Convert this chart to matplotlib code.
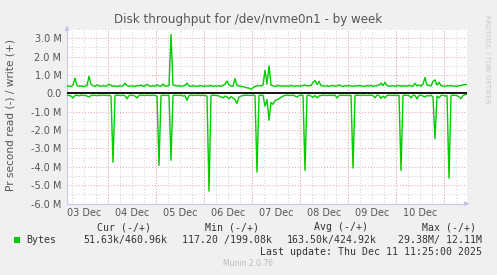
import numpy as np
import matplotlib
matplotlib.use("Agg")
import matplotlib.pyplot as plt
import matplotlib.dates as mdates
from matplotlib.ticker import MultipleLocator, FuncFormatter

# ---- data (values in millions of bytes / second), hourly samples ----
start = np.datetime64('2025-12-03T03:25')
n_points = 201
times = start + np.arange(n_points) * np.timedelta64(1, 'h')

write = [
    0.38, 0.40, 0.36, 0.45, 0.83, 0.42, 0.38, 0.40, 0.37, 0.39,
    0.42, 0.92, 0.50, 0.40, 0.38, 0.45, 0.40, 0.38, 0.41, 0.39,
    0.40, 0.50, 0.42, 0.38, 0.40, 0.37, 0.41, 0.39, 0.40, 0.55,
    0.42, 0.38, 0.40, 0.39, 0.37, 0.42, 0.40, 0.45, 0.38, 0.40,
    0.49, 0.40, 0.38, 0.41, 0.38, 0.45, 0.40, 0.38, 0.50, 0.39,
    0.40, 0.42, 3.20, 0.45, 0.42, 0.40, 0.41, 0.38, 0.40, 0.42,
    0.55, 0.40, 0.38, 0.41, 0.39, 0.38, 0.40, 0.42, 0.38, 0.40,
    0.39, 0.40, 0.42, 0.38, 0.40, 0.39, 0.41, 0.38, 0.42, 0.50,
    0.67, 0.45, 0.40, 0.38, 0.80, 0.42, 0.40, 0.38, 0.36, 0.33,
    0.30, 0.28, 0.22, 0.30, 0.38, 0.40, 0.42, 0.40, 0.45, 1.25,
    0.50, 1.50, 0.45, 0.40, 0.38, 0.40, 0.42, 0.38, 0.41, 0.39,
    0.40, 0.38, 0.42, 0.40, 0.38, 0.41, 0.39, 0.40, 0.42, 0.45,
    0.40, 0.41, 0.42, 0.58, 0.70, 0.48, 0.65, 0.42, 0.40, 0.39,
    0.41, 0.38, 0.40, 0.42, 0.39, 0.40, 0.45, 0.40, 0.38, 0.41,
    0.40, 0.42, 0.39, 0.38, 0.41, 0.40, 0.42, 0.40, 0.38, 0.39,
    0.41, 0.40, 0.42, 0.38, 0.40, 0.41, 0.45, 0.55, 0.42, 0.60,
    0.42, 0.38, 0.40, 0.41, 0.39, 0.40, 0.42, 0.38, 0.41, 0.40,
    0.39, 0.42, 0.40, 0.38, 0.55, 0.40, 0.45, 0.38, 0.50, 0.86,
    0.45, 0.42, 0.40, 0.65, 0.73, 0.45, 0.60, 0.42, 0.40, 0.38,
    0.41, 0.40, 0.42, 0.39, 0.40, 0.38, 0.41, 0.42, 0.45, 0.48, 0.46,
]

read = [
    -0.10, -0.12, -0.15, -0.25, -0.12, -0.10, -0.14, -0.10, -0.12, -0.11,
    -0.15, -0.20, -0.12, -0.10, -0.11, -0.13, -0.10, -0.12, -0.10, -0.11,
    -0.12, -0.10, -0.15, -3.75, -0.12, -0.10, -0.11, -0.12, -0.10, -0.14,
    -0.30, -0.12, -0.10, -0.11, -0.15, -0.25, -0.12, -0.10, -0.11, -0.12,
    -0.10, -0.12, -0.11, -0.10, -0.12, -0.15, -3.93, -0.12, -0.10, -0.11,
    -0.12, -0.10, -3.65, -0.12, -0.10, -0.11, -0.12, -0.10, -0.15, -0.12,
    -0.38, -0.12, -0.10, -0.11, -0.12, -0.10, -0.11, -0.12, -0.10, -0.12,
    -0.15, -5.33, -0.12, -0.10, -0.11, -0.12, -0.15, -0.20, -0.25, -0.15,
    -0.20, -0.30, -0.18, -0.25, -0.35, -0.55, -0.20, -0.15, -0.12, -0.11,
    -0.10, -0.12, -0.11, -0.10, -0.12, -4.29, -0.12, -0.10, -0.11, -0.70,
    -0.35, -1.47, -0.50, -0.60, -0.40, -0.35, -0.30, -0.22, -0.15, -0.12,
    -0.10, -0.11, -0.12, -0.10, -0.15, -0.20, -0.12, -0.10, -0.11, -4.20,
    -0.12, -0.10, -0.15, -0.22, -0.12, -0.25, -0.15, -0.12, -0.10, -0.11,
    -0.12, -0.10, -0.11, -0.12, -0.10, -0.25, -0.12, -0.10, -0.11, -0.12,
    -0.10, -0.12, -0.11, -4.07, -0.12, -0.10, -0.11, -0.12, -0.10, -0.11,
    -0.12, -0.10, -0.11, -0.12, -0.25, -0.10, -0.12, -0.28, -0.15, -0.25,
    -0.12, -0.10, -0.11, -0.12, -0.10, -0.12, -0.11, -4.20, -0.12, -0.10,
    -0.11, -0.12, -0.25, -0.10, -0.12, -0.30, -0.12, -0.10, -0.15, -0.20,
    -0.12, -0.15, -0.10, -0.20, -2.47, -0.15, -0.25, -0.12, -0.10, -0.15,
    -0.12, -4.62, -0.12, -0.10, -0.11, -0.12, -0.20, -0.30, -0.12, -0.08, -0.05,
]

title = "Disk throughput for /dev/nvme0n1 - by week"
ylabel = "Pr second read (-) / write (+)"
legend_headers = ["Cur (-/+)", "Min (-/+)", "Avg (-/+)", "Max (-/+)"]
legend_values = ["51.63k/460.96k", "117.20 /199.08k", "163.50k/424.92k", "29.38M/ 12.11M"]
series_name = "Bytes"
last_update = "Last update: Thu Dec 11 11:25:00 2025"
footer = "Munin 2.0.76"
side_text = "RRDTOOL / TOBI OETIKER"

# ---- figure ----
W, H = 497, 275
fig = plt.figure(figsize=(W / 100, H / 100), dpi=100, facecolor='#F0F0F0')
L, R, T, B = 67, 467, 29, 203.5
ax = fig.add_axes([L / W, 1 - B / H, (R - L) / W, (B - T) / H])
ax.set_facecolor('white')

green = '#00CC00'
ax.plot(times, write, color=green, lw=1.0, zorder=4)
ax.plot(times, read, color=green, lw=1.0, zorder=4)
ax.axhline(0, color='black', lw=1.3, zorder=5)

x0 = times[0]
x1 = times[0] + np.timedelta64(200, 'h')
ax.set_xlim(x0, x1)
ax.set_ylim(-6, 3.5)

# y grid
ax.yaxis.set_major_locator(MultipleLocator(1))
ax.yaxis.set_minor_locator(MultipleLocator(0.5))
ax.yaxis.set_major_formatter(FuncFormatter(lambda v, p: '0.0' if abs(v) < 1e-9 else f'{v:.1f} M'))
ax.grid(which='minor', axis='y', color='#cfcfcf', ls=(0, (1, 2)), lw=0.7, zorder=1)
ax.grid(which='major', axis='y', color='#e8a0a0', ls=(0, (1, 2)), lw=0.7, zorder=2)

# x grid
ax.xaxis.set_major_locator(mdates.HourLocator(byhour=[12]))
ax.xaxis.set_major_formatter(mdates.DateFormatter('%d %b'))
ax.xaxis.set_minor_locator(mdates.HourLocator(byhour=[0, 6, 12, 18]))
ax.xaxis.remove_overlapping_locs = False
ax.grid(which='minor', axis='x', color='#cfcfcf', ls=(0, (1, 2)), lw=0.7, zorder=1)
n0, n1 = mdates.date2num(x0), mdates.date2num(x1)
for d in mdates.DayLocator().tick_values(mdates.num2date(n0), mdates.num2date(n1)):
    if n0 < d < n1:
        ax.axvline(d, color='#e8a0a0', ls=(0, (1, 2)), lw=0.7, zorder=2)

ax.tick_params(axis='both', which='both', length=0, labelsize=7, colors='#555555', pad=4)
ax.tick_params(axis='x', pad=3)

for s in ['top', 'right']:
    ax.spines[s].set_visible(False)
for s in ['left', 'bottom']:
    ax.spines[s].set_color('#c8c8f0')
    ax.spines[s].set_linewidth(0.8)
ax.annotate('', xy=(1.012, 0), xytext=(0.99, 0), xycoords='axes fraction',
            arrowprops=dict(arrowstyle='-|>', color='#c0c0f0', lw=0.8, mutation_scale=6))
ax.annotate('', xy=(0, 1.035), xytext=(0, 0.99), xycoords='axes fraction',
            arrowprops=dict(arrowstyle='-|>', color='#c0c0f0', lw=0.8, mutation_scale=6))

fig.text(248 / W, 1 - 19 / H, title, ha='center', va='center', fontsize=8.6, color='#555555')
fig.text(11 / W, 1 - 115 / H, ylabel, ha='center', va='center', rotation=90, fontsize=7.6, color='#555555')
fig.text(487 / W, 1 - 15 / H, side_text, ha='center', va='top', rotation=270, fontsize=5, color='#c8c8c8')

mono = 'DejaVu Sans Mono'
tc = '#333333'
hdr_right = [151, 259, 368, 476]
for h, xr in zip(legend_headers, hdr_right):
    fig.text(xr / W, 1 - 227 / H, h, ha='right', va='center', family=mono, fontsize=7.1, color=tc)
fig.patches.append(plt.Rectangle((14 / W, 1 - 243 / H), 6 / W, 6 / H, transform=fig.transFigure,
                                 facecolor=green, edgecolor='none'))
fig.text(26 / W, 1 - 240 / H, series_name, ha='left', va='center', family=mono, fontsize=7.1, color=tc)
val_right = [167, 272, 377, 482]
for v, xr in zip(legend_values, val_right):
    fig.text(xr / W, 1 - 240 / H, v, ha='right', va='center', family=mono, fontsize=7.1, color=tc)
fig.text(482 / W, 1 - 252 / H, last_update, ha='right', va='center', family=mono, fontsize=7.1, color=tc)
fig.text(248 / W, 1 - 264 / H, footer, ha='center', va='center', fontsize=5.5, color='#bbbbbb')

fig.savefig('out.png', dpi=100, facecolor=fig.get_facecolor())
